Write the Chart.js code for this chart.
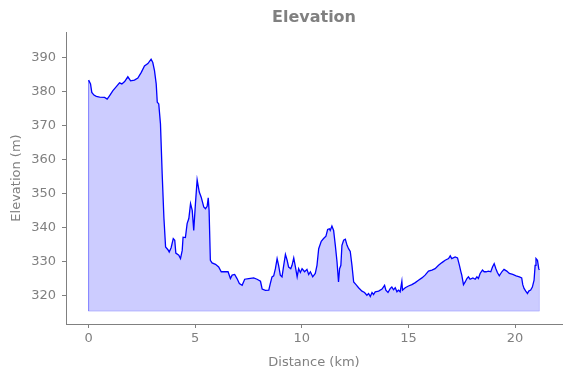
<!DOCTYPE html>
<html>
<head>
<meta charset="utf-8">
<script src="https://cdn.jsdelivr.net/npm/chart.js@4"></script>
<style>
  html, body { margin: 0; padding: 0; background: #fff; }
  #wrap { width: 571px; height: 378px; }
</style>
</head>
<body>
<div id="wrap"><canvas id="elevChart" width="571" height="378"></canvas></div>
<script>
// distance along route (km) and elevation (m)
const DIST = [
  0, 0.09, 0.15, 0.25, 0.36, 0.52, 0.75, 0.87, 0.98, 1.14, 1.30, 1.45, 1.56, 1.69, 1.84, 1.97,
  2.15, 2.31, 2.47, 2.62, 2.78, 2.93, 3.01, 3.09, 3.17, 3.22, 3.29, 3.37, 3.45, 3.53, 3.61, 3.72,
  3.78, 3.87, 3.97, 4.04, 4.09, 4.23, 4.31, 4.39, 4.43, 4.54, 4.62, 4.70, 4.78, 4.86, 4.93, 5.01,
  5.09, 5.19, 5.28, 5.40, 5.48, 5.56, 5.61, 5.65, 5.71, 5.79, 5.95, 6.10, 6.22, 6.42, 6.54, 6.65,
  6.73, 6.85, 6.96, 7.07, 7.20, 7.32, 7.51, 7.74, 7.90, 8.06, 8.14, 8.29, 8.45, 8.52, 8.60, 8.68,
  8.76, 8.84, 8.91, 8.99, 9.07, 9.15, 9.23, 9.31, 9.38, 9.48, 9.54, 9.62, 9.70, 9.78, 9.85, 9.93,
  10.01, 10.13, 10.24, 10.32, 10.40, 10.51, 10.63, 10.71, 10.79, 10.91, 11.02, 11.13, 11.21, 11.29,
  11.33, 11.41, 11.49, 11.57, 11.65, 11.72, 11.77, 11.83, 11.88, 11.96, 12.04, 12.12, 12.19, 12.27,
  12.35, 12.43, 12.54, 12.66, 12.82, 12.94, 13.05, 13.13, 13.21, 13.29, 13.36, 13.44, 13.60, 13.76,
  13.88, 13.94, 14.04, 14.15, 14.22, 14.30, 14.38, 14.46, 14.53, 14.61, 14.69, 14.72, 14.85, 15.00,
  15.16, 15.32, 15.47, 15.63, 15.78, 15.94, 16.10, 16.25, 16.41, 16.57, 16.72, 16.88, 16.96, 17.03,
  17.19, 17.30, 17.39, 17.46, 17.50, 17.58, 17.66, 17.74, 17.81, 17.89, 18.02, 18.13, 18.21, 18.28,
  18.36, 18.47, 18.55, 18.64, 18.75, 18.86, 18.94, 19.02, 19.10, 19.17, 19.26, 19.38, 19.48, 19.61,
  19.73, 19.89, 20.05, 20.20, 20.31, 20.36, 20.42, 20.50, 20.58, 20.64, 20.73, 20.81, 20.89, 20.94,
  20.98, 21.05, 21.11, 21.14
];
const ELEV = [
  383.4, 382.3, 379.8, 379.0, 378.6, 378.4, 378.3, 377.8, 378.8, 380.3, 381.5, 382.6, 382.3, 383.0, 384.4, 383.2,
  383.4, 384.0, 385.7, 387.6, 388.3, 389.6, 388.6, 386.2, 382.3, 376.9, 376.4, 370.5, 355.8, 343.0, 334.2, 333.4,
  332.7, 334.0, 336.7, 336.2, 332.4, 331.8, 330.8, 333.2, 337.1, 337.0, 341.1, 342.6, 347.0, 345.0, 339.1, 347.0,
  354.0, 350.4, 348.9, 346.0, 345.5, 346.2, 348.7, 345.0, 330.3, 329.5, 329.1, 328.3, 326.9, 326.9, 326.9, 324.9,
  325.9, 326.1, 324.9, 323.4, 322.9, 324.7, 324.9, 325.1, 324.7, 324.1, 321.8, 321.4, 321.5, 323.4, 325.4, 325.7,
  327.8, 330.8, 328.8, 325.9, 325.4, 328.8, 332.0, 330.3, 328.3, 327.8, 328.8, 331.0, 328.3, 325.4, 327.8, 326.7,
  327.8, 326.9, 327.6, 326.1, 326.9, 325.4, 326.4, 328.8, 333.7, 335.9, 336.7, 337.4, 339.4, 339.6,
  339.1, 340.4, 339.1, 334.7, 329.8, 323.9, 327.8, 328.8, 334.7, 336.2, 336.5, 334.7, 333.7, 332.9,
  328.8, 323.9, 323.1, 322.2, 321.2, 320.8, 320.0, 320.5, 319.6, 320.8, 320.2, 321.0, 321.2, 321.8,
  322.9, 321.5, 320.8, 322.0, 322.4, 321.6, 322.2, 321.0, 321.5, 321.0, 324.1, 321.5, 322.2, 322.7,
  323.1, 323.7, 324.4, 325.1, 325.9, 327.1, 327.4, 327.8, 328.8, 329.6, 330.3, 330.8, 331.6, 330.8,
  331.3, 331.0, 328.8, 326.9, 325.9, 323.1, 323.9, 324.9, 325.4, 324.7, 325.1, 324.7, 325.4, 324.9,
  326.4, 327.4, 326.9, 326.9, 327.1, 326.9, 328.3, 329.3, 327.8, 326.7, 325.7, 326.9, 327.6, 327.1,
  326.4, 326.1, 325.7, 325.4, 325.1, 323.1, 322.0, 321.2, 320.5, 321.2, 321.5, 322.4, 324.4, 328.8,
  330.8, 330.3, 327.8, 327.4
];
const BASE = 315.3;           // bottom of the shaded area
const X_TICKS = [0, 5, 10, 15, 20];
const Y_TICKS = [320, 330, 340, 350, 360, 370, 380, 390];

const GRAY = '#808080';
const FONT = 'DejaVu Sans';

const profile = DIST.map((d, i) => ({ x: d, y: ELEV[i] }));
const last = DIST.length - 1;
const edge = [
  { x: DIST[0], y: ELEV[0] }, { x: DIST[0], y: BASE },
  { x: DIST[last], y: BASE }, { x: DIST[last], y: ELEV[last] }
];

const titleOnArea = {
  id: 'titleOnArea',
  afterDraw(chart) {
    const { ctx, chartArea } = chart;
    ctx.save();
    ctx.font = `bold 16px "${FONT}"`;
    ctx.fillStyle = GRAY;
    ctx.textAlign = 'center';
    ctx.textBaseline = 'middle';
    ctx.fillText('Elevation', (chartArea.left + chartArea.right) / 2, 18);
    ctx.restore();
  }
};

const axisCommon = {
  type: 'linear',
  border: { display: true, color: GRAY, width: 1 },
  grid: { drawOnChartArea: false, drawTicks: true, tickLength: 4, color: GRAY },
  ticks: { color: GRAY, font: { family: FONT, size: 13 } },
  title: { display: true, color: GRAY, font: { family: FONT, size: 13 } }
};

new Chart(document.getElementById('elevChart').getContext('2d'), {
  type: 'scatter',
  data: {
    datasets: [
      {
        label: 'edge',
        data: edge,
        showLine: true,
        borderColor: 'rgba(0,0,255,0.2)',
        borderWidth: 1,
        pointRadius: 0,
        fill: false
      },
      {
        label: 'Elevation',
        data: profile,
        showLine: true,
        borderColor: '#0000ff',
        borderWidth: 1.3,
        backgroundColor: 'rgba(0,0,255,0.2)',
        pointRadius: 0,
        tension: 0,
        fill: { value: BASE }
      }
    ]
  },
  options: {
    responsive: false,
    animation: false,
    layout: { padding: { top: 32, right: 9, left: 0, bottom: 0 } },
    plugins: {
      legend: { display: false },
      title: { display: false },
      tooltip: { enabled: false }
    },
    scales: {
      x: {
        ...axisCommon,
        min: -1.06,
        max: 22.2,
        ticks: { ...axisCommon.ticks, padding: 3, callback: v => String(v) },
        title: { ...axisCommon.title, text: 'Distance (km)', padding: { top: 2, bottom: 8 } },
        afterBuildTicks: axis => { axis.ticks = X_TICKS.map(v => ({ value: v })); },
        afterFit: axis => { axis.height = 54; }
      },
      y: {
        ...axisCommon,
        min: 311.5,
        max: 397.6,
        ticks: { ...axisCommon.ticks, padding: 6, callback: v => String(v) },
        title: { ...axisCommon.title, text: 'Elevation (m)', padding: { top: 9, bottom: 4 } },
        afterBuildTicks: axis => { axis.ticks = Y_TICKS.map(v => ({ value: v })); },
        afterFit: axis => { axis.width = 66; }
      }
    }
  },
  plugins: [titleOnArea]
});
</script>
</body>
</html>
